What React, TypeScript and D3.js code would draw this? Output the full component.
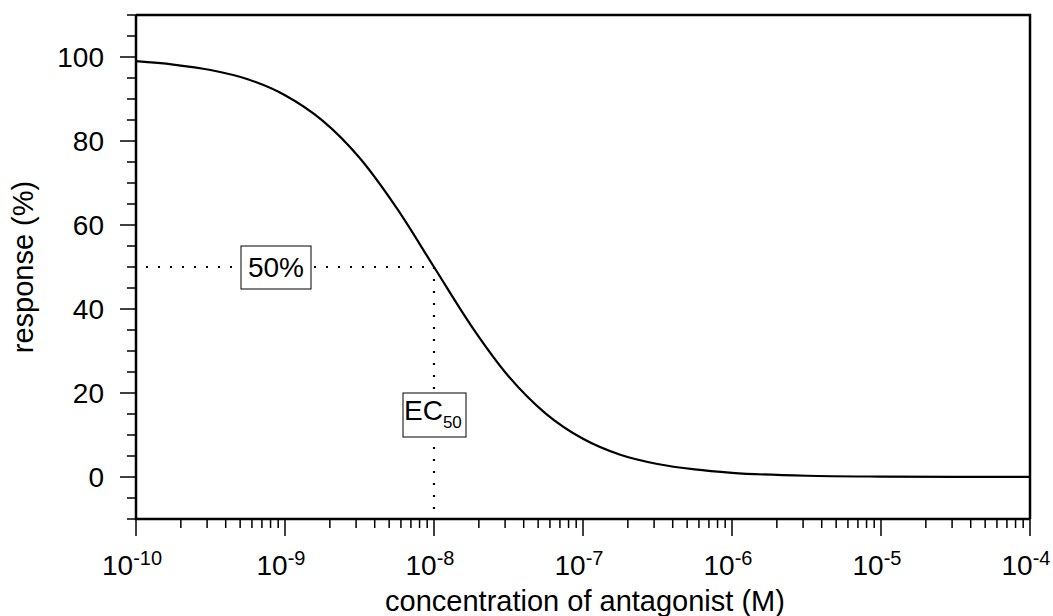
import React from 'react';
import * as d3 from 'd3';

// concentration (log10 M) and response (%)
const logConc = [-10, -9.75, -9.5, -9.25, -9, -8.75, -8.5, -8.25, -8, -7.75, -7.5, -7.25, -7, -6.75, -6.5, -6.25, -6, -5.5, -5, -4.5, -4];
const response = [99.0, 98.2, 96.9, 94.7, 90.9, 84.9, 76.0, 64.0, 50.0, 36.0, 24.0, 15.1, 9.1, 5.3, 3.1, 1.8, 1.0, 0.3, 0.1, 0.03, 0.01];

const yMajor = [0, 20, 40, 60, 80, 100];
const xDecades = [-10, -9, -8, -7, -6, -5, -4];
const ec50 = 1e-8;
const halfResponse = 50;

const W = 1053;
const H = 616;
const margin = { top: 15, right: 23, bottom: 97, left: 136 };
const font = '"Liberation Sans", Arial, sans-serif';

const App: React.FC = () => {
  const x = d3.scaleLog().domain([1e-10, 1e-4]).range([margin.left, W - margin.right]);
  const y = d3.scaleLinear().domain([-10, 110]).range([H - margin.bottom, margin.top]);

  const x0 = margin.left;
  const x1 = W - margin.right;
  const y0 = H - margin.bottom;
  const y1 = margin.top;

  const line = d3.line<number>()
    .x((_, i) => x(Math.pow(10, logConc[i])))
    .y(d => y(d))
    .curve(d3.curveMonotoneX);

  const xTicks = x.ticks();
  const yMinor = d3.range(-10, 111, 5);

  const ex = x(ec50);
  const ey = y(halfResponse);

  return (
    <div style={{ position: 'fixed', left: 0, top: 0 }}>
      <svg width={W} height={H} style={{ display: 'block', background: '#fff' }} fontFamily={font}>
        {/* dotted guides */}
        <line x1={x0 + 10} x2={ex} y1={ey} y2={ey} stroke="#000" strokeWidth={2.2} strokeDasharray="2 10" />
        <line x1={ex} x2={ex} y1={ey} y2={y0} stroke="#000" strokeWidth={2.2} strokeDasharray="2 10" />

        {/* curve */}
        <path d={line(response) || ''} fill="none" stroke="#000" strokeWidth={2.2} />

        {/* frame */}
        <path d={`M${x0},${y1}H${x1}V${y0}`} fill="none" stroke="#000" strokeWidth={2.5} />
        <path d={`M${x0},${y1}V${y0}H${x1}`} fill="none" stroke="#000" strokeWidth={2.5} />

        {/* y ticks */}
        {yMinor.map(v => (
          <line key={'ym' + v} x1={x0 - (yMajor.includes(v) ? 16 : 9)} x2={x0} y1={y(v)} y2={y(v)} stroke="#000" strokeWidth={1.5} />
        ))}
        {yMajor.map(v => (
          <text key={'yl' + v} x={x0 - 32} y={y(v)} dy="0.36em" textAnchor="end" fontSize={28}>{v}</text>
        ))}

        {/* x ticks */}
        {xTicks.map((t, i) => {
          const major = Math.abs(Math.log10(t) - Math.round(Math.log10(t))) < 1e-9;
          return <line key={'xt' + i} x1={x(t)} x2={x(t)} y1={y0} y2={y0 + (major ? 17 : 9)} stroke="#000" strokeWidth={1.5} />;
        })}
        {xDecades.map(p => (
          <text key={'xl' + p} x={x(Math.pow(10, p)) - 4} y={575} textAnchor="middle" fontSize={28}>
            10<tspan dy={-10} fontSize={20}>{p}</tspan>
          </text>
        ))}

        {/* annotation boxes */}
        <rect x={241} y={ey - 21} width={70} height={43} fill="#fff" stroke="#000" strokeWidth={1} />
        <text x={276} y={277} textAnchor="middle" fontSize={28}>50%</text>
        <rect x={ex - 31} y={393} width={63} height={44} fill="#fff" stroke="#000" strokeWidth={1} />
        <text x={ex - 30} y={420} fontSize={28}>EC<tspan dy={8} fontSize={17}>50</tspan></text>

        {/* axis titles */}
        <text x={(x0 + x1) / 2 + 2} y={611} textAnchor="middle" fontSize={29}>concentration of antagonist (M)</text>
        <text transform={`translate(33,${(y0 + y1) / 2}) rotate(-90)`} textAnchor="middle" fontSize={29}>response (%)</text>
      </svg>
    </div>
  );
};

export default App;
